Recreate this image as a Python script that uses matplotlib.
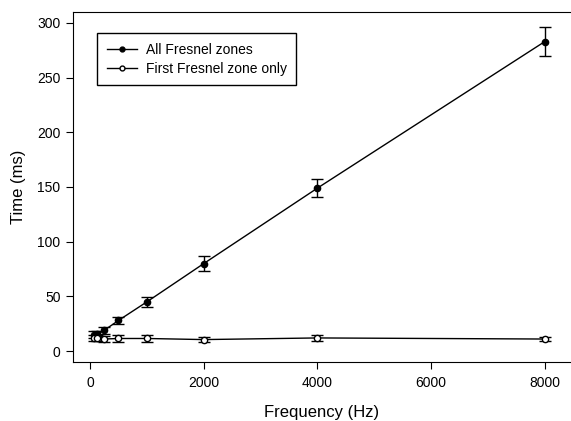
import matplotlib.pyplot as plt
from matplotlib.lines import Line2D

plt.rcParams['font.family'] = ['Liberation Sans', 'DejaVu Sans']

freq = [63, 125, 250, 500, 1000, 2000, 4000, 8000]
all_zones = [15, 15.5, 19, 28, 45, 80, 149, 283]
all_err = [3, 3, 3, 3, 4.5, 6.5, 8, 13.5]
first_zone = [12, 12, 11, 11.5, 11.5, 10.5, 12, 11]
first_err = [3, 3, 3, 3, 3, 2.5, 3, 2]

fig = plt.figure(figsize=(5.71, 4.21), dpi=100)
ax = fig.add_axes([73 / 571, (421 - 362) / 421, 1 - 73 / 571, (362 - 12) / 421])

ax.errorbar(freq, all_zones, yerr=all_err, fmt='-o', color='black', lw=1,
            ms=4.5, capsize=4, elinewidth=1, capthick=1)
ax.errorbar(freq, first_zone, yerr=first_err, fmt='-o', color='black', lw=1,
            ms=4.5, mfc='white', capsize=4, elinewidth=1, capthick=1)

ax.set_xlim(-300, 8460)
ax.set_ylim(-10, 310)
ax.set_xticks([0, 2000, 4000, 6000, 8000])
ax.set_yticks([0, 50, 100, 150, 200, 250, 300])
ax.spines['right'].set_visible(False)
ax.tick_params(direction='out', length=5, labelsize=10)
ax.tick_params(axis='x', pad=5)
ax.tick_params(axis='y', pad=4)

ax.set_xlabel('Frequency (Hz)', fontsize=12, labelpad=11)
ax.set_ylabel('Time (ms)', fontsize=12, labelpad=8)

handles = [Line2D([], [], color='black', lw=1, marker='o', ms=3.5),
           Line2D([], [], color='black', lw=1, marker='o', ms=3.5, mfc='white')]
leg = ax.legend(handles, ['All Fresnel zones', 'First Fresnel zone only'],
                loc='upper left', bbox_to_anchor=(0.048, 0.94), borderaxespad=0,
                fontsize=10, fancybox=False, edgecolor='black', framealpha=1,
                handlelength=2.2, handletextpad=0.6, labelspacing=0.35,
                borderpad=0.7)
leg.get_frame().set_linewidth(1)

fig.savefig('out.png', dpi=100)
